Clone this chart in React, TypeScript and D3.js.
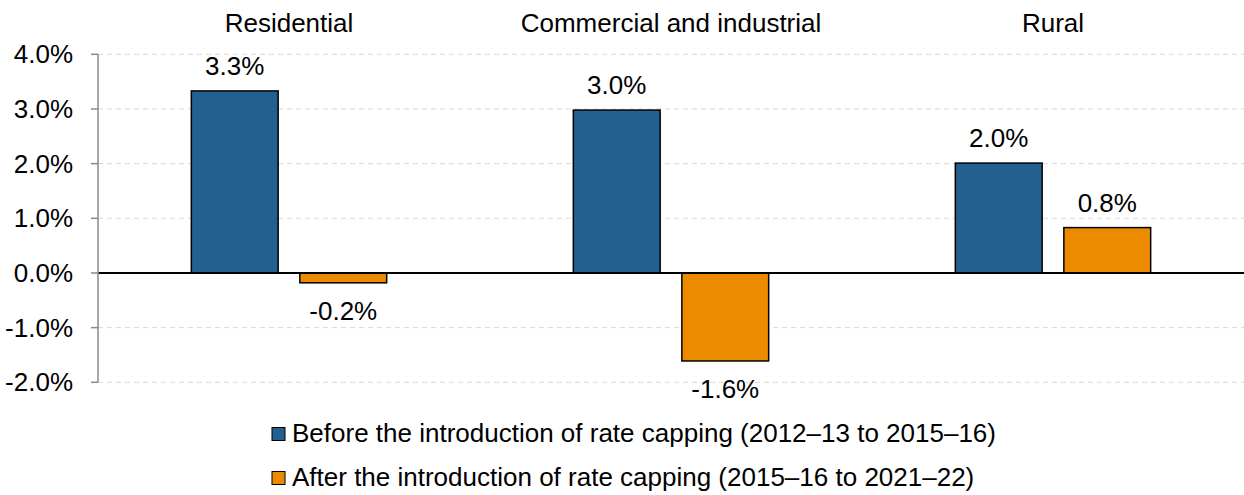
import React from "react";
import * as d3 from "d3";

const categories = ["Residential", "Commercial and industrial", "Rural"];
const seriesNames = [
  "Before the introduction of rate capping (2012–13 to 2015–16)",
  "After the introduction of rate capping (2015–16 to 2021–22)",
];
const beforeValues = [3.33, 2.98, 2.01];
const afterValues = [-0.18, -1.61, 0.83];
const labelsBefore = ["3.3%", "3.0%", "2.0%"];
const labelsAfter = ["-0.2%", "-1.6%", "0.8%"];
const yTicks = [-2, -1, 0, 1, 2, 3, 4];
const colors = ["#23608f", "#ed8b00"];

const W = 1244;
const H = 495;
const left = 98;
const right = 1244;
const font = "'Liberation Sans', Arial, sans-serif";
const fs = 26;

export default function App() {
  const y = d3.scaleLinear().domain([-2, 4]).range([382.3, 54.3]);
  const x0 = d3.scaleBand().domain(categories).range([left, right]).padding(0);
  const x1 = d3.scaleBand().domain(["0", "1"]).range([0, x0.bandwidth()]).paddingInner(0.2).paddingOuter(0.86);
  const series = [beforeValues, afterValues];
  const labels = [labelsBefore, labelsAfter];
  return (
    <svg width={W} height={H} style={{ position: "absolute", left: 0, top: 0, background: "#fff" }} fontFamily={font}>
      {yTicks.filter((t) => t !== 0).map((t) => (
        <line key={"g" + t} x1={left} x2={right} y1={y(t)} y2={y(t)} stroke="#d9d9d9" strokeDasharray="5,4" strokeWidth={1} />
      ))}
      {categories.map((c, ci) =>
        series.map((vals, si) => {
          const v = vals[ci];
          const bx = x0(c)! + x1(String(si))!;
          const top = Math.min(y(v), y(0));
          const h = Math.abs(y(v) - y(0));
          return (
            <g key={c + si}>
              <rect x={bx} y={top} width={x1.bandwidth()} height={h} fill={colors[si]} stroke="#000" strokeWidth={1.5} />
              <text
                x={bx + x1.bandwidth() / 2}
                y={v >= 0 ? y(v) - 16 : y(v) + 37}
                textAnchor="middle"
                fontSize={fs}
                fill="#000"
              >
                {labels[si][ci]}
              </text>
            </g>
          );
        })
      )}
      {categories.map((c) => (
        <text key={c} x={x0(c)! + x0.bandwidth() / 2} y={32} textAnchor="middle" fontSize={fs} fill="#000">
          {c}
        </text>
      ))}
      <line x1={left} x2={right} y1={y(0)} y2={y(0)} stroke="#000" strokeWidth={2} />
      <line x1={left} x2={left} y1={y(4)} y2={y(-2)} stroke="#888" strokeWidth={1.5} />
      {yTicks.map((t) => (
        <g key={"t" + t}>
          <line x1={left - 7} x2={left} y1={y(t)} y2={y(t)} stroke="#888" strokeWidth={1.5} />
          <text x={left - 25} y={y(t) + 9} textAnchor="end" fontSize={fs} fill="#000">
            {t.toFixed(1) + "%"}
          </text>
        </g>
      ))}
      {seriesNames.map((s, i) => (
        <g key={s}>
          <rect x={272} y={427.5 + i * 44} width={13} height={13} fill={colors[i]} stroke="#000" strokeWidth={1} />
          <text x={292} y={442 + i * 44} fontSize={fs} fill="#000">
            {s}
          </text>
        </g>
      ))}
    </svg>
  );
}
